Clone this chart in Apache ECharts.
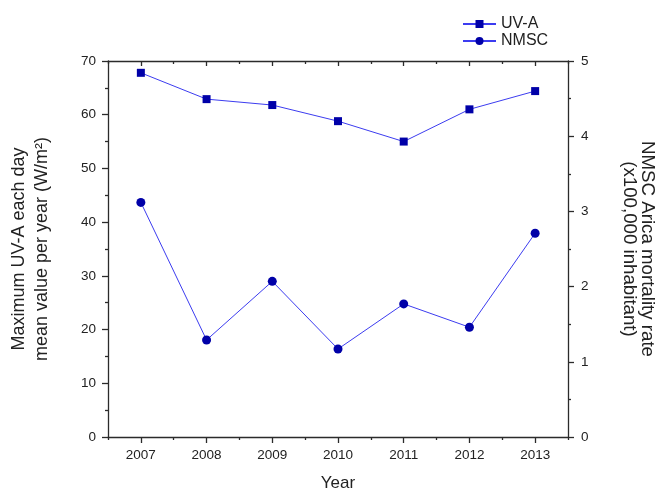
<!DOCTYPE html>
<html>
<head>
<meta charset="utf-8">
<script src="https://cdn.jsdelivr.net/npm/echarts@6/dist/echarts.min.js"></script>
<style>
  html, body { margin: 0; padding: 0; background: #fff; }
  #chart { width: 658px; height: 490px; }
</style>
</head>
<body>
<div id="chart"></div>
<script>
// Yearly values, 2007-2013
const years = ['2007', '2008', '2009', '2010', '2011', '2012', '2013'];
const uvaMax = [67.8, 62.9, 61.8, 58.8, 55.0, 61.0, 64.4];   // W/m², left axis
const nmscRate = [3.12, 1.29, 2.07, 1.17, 1.77, 1.46, 2.71]; // per 100,000, right axis

const FONT = 'Liberation Sans, Arial, sans-serif';
const AXIS_COLOR = '#2b2b2b';
const MARK = '#0000A8';
const LINE = '#3c3cf0';

const lineStyleAxis = { show: true, lineStyle: { color: AXIS_COLOR, width: 1.3 } };

const chart = echarts.init(document.getElementById('chart'), null, { renderer: 'canvas' });

chart.setOption({
  backgroundColor: '#ffffff',
  animation: false,
  textStyle: { fontFamily: FONT },
  grid: { left: 108, right: 90, top: 61, bottom: 53, containLabel: false, outerBoundsMode: 'none' },
  legend: {
    orient: 'vertical',
    left: 457,
    top: 11,
    itemWidth: 33,
    itemHeight: 10,
    itemGap: 1,
    textStyle: { fontFamily: FONT, fontSize: 16, color: '#222' },
    data: ['UV-A', 'NMSC']
  },
  xAxis: [
    {
      type: 'category', position: 'bottom', data: years, boundaryGap: true,
      axisLine: lineStyleAxis,
      axisTick: { show: true, alignWithLabel: true, length: 6, lineStyle: { color: AXIS_COLOR, width: 1.3 } },
      axisLabel: { fontFamily: FONT, fontSize: 13.5, color: '#222', margin: 11 },
      name: 'Year', nameLocation: 'middle', nameGap: 38,
      nameTextStyle: { fontFamily: FONT, fontSize: 17, color: '#222' },
      splitLine: { show: false }
    },
    {
      type: 'category', position: 'bottom', data: years, boundaryGap: true,
      axisLine: { show: false },
      axisTick: { show: true, alignWithLabel: false, length: 3, lineStyle: { color: AXIS_COLOR, width: 1.3 } },
      axisLabel: { show: false }, splitLine: { show: false }
    },
    {
      type: 'category', position: 'top', data: years, boundaryGap: true,
      axisLine: lineStyleAxis,
      axisTick: { show: true, inside: true, alignWithLabel: true, length: 5, lineStyle: { color: AXIS_COLOR, width: 1.3 } },
      axisLabel: { show: false }, splitLine: { show: false }
    },
    {
      type: 'category', position: 'top', data: years, boundaryGap: true,
      axisLine: { show: false },
      axisTick: { show: true, inside: true, alignWithLabel: false, length: 3, lineStyle: { color: AXIS_COLOR, width: 1.3 } },
      axisLabel: { show: false }, splitLine: { show: false }
    }
  ],
  yAxis: [
    {
      type: 'value', position: 'left', min: 0, max: 70, interval: 10,
      axisLine: lineStyleAxis,
      axisTick: { show: true, length: 6, lineStyle: { color: AXIS_COLOR, width: 1.3 } },
      minorTick: { show: true, splitNumber: 2, length: 3, lineStyle: { color: AXIS_COLOR, width: 1.3 } },
      axisLabel: { fontFamily: FONT, fontSize: 13.5, color: '#222', margin: 12 },
      splitLine: { show: false }, minorSplitLine: { show: false },
      name: 'Maximum UV-A each day\nmean value per year (W/m²)',
      nameLocation: 'middle', nameGap: 54, nameRotate: 90,
      nameTextStyle: { fontFamily: FONT, fontSize: 18, color: '#222', lineHeight: 23, align: 'center' }
    },
    {
      type: 'value', position: 'right', min: 0, max: 5, interval: 1,
      axisLine: lineStyleAxis,
      axisTick: { show: true, length: 6, lineStyle: { color: AXIS_COLOR, width: 1.3 } },
      minorTick: { show: true, splitNumber: 2, length: 3, lineStyle: { color: AXIS_COLOR, width: 1.3 } },
      axisLabel: { fontFamily: FONT, fontSize: 13.5, color: '#222', margin: 13 },
      splitLine: { show: false }, minorSplitLine: { show: false },
      name: 'NMSC Arica mortality rate\n(x100,000 inhabitant)',
      nameLocation: 'middle', nameGap: 52, nameRotate: -90,
      nameTextStyle: { fontFamily: FONT, fontSize: 18.7, color: '#222', lineHeight: 18, align: 'center' }
    }
  ],
  series: [
    {
      name: 'UV-A', type: 'line', xAxisIndex: 0, yAxisIndex: 0, data: uvaMax,
      symbol: 'rect', symbolSize: 8, showAllSymbol: true,
      itemStyle: { color: MARK },
      lineStyle: { color: LINE, width: 1 }
    },
    {
      name: 'NMSC', type: 'line', xAxisIndex: 0, yAxisIndex: 1, data: nmscRate,
      symbol: 'circle', symbolSize: 9, showAllSymbol: true,
      itemStyle: { color: MARK },
      lineStyle: { color: LINE, width: 1 }
    }
  ]
});
</script>
</body>
</html>
